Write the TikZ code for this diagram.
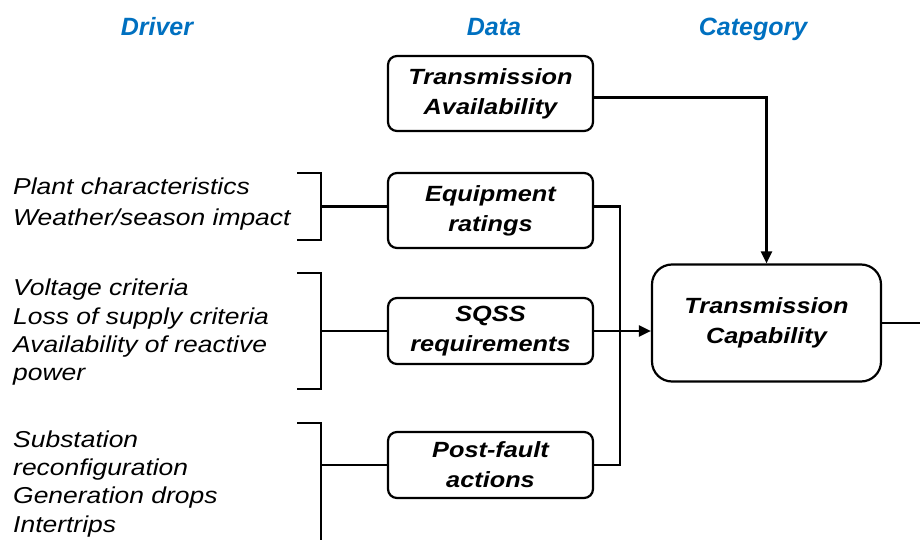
\documentclass[tikz,border=0pt]{standalone}
\usepackage{fontspec}
\setmainfont{Liberation Sans}
\newfontfamily\stretchfont{Liberation Sans}[FakeStretch=1.15]
\usetikzlibrary{arrows.meta}
\definecolor{hdrblue}{RGB}{0,112,192}
\begin{document}
\begin{tikzpicture}[x=1pt,y=-1pt,
  hdr/.style={font=\fontsize{25}{30}\selectfont\bfseries\itshape, text=hdrblue, anchor=base, inner sep=0pt},
  drv/.style={font=\stretchfont\fontsize{23}{26}\selectfont\itshape, anchor=base west, inner sep=0pt},
  box/.style={draw, line width=2.2pt, rounded corners=9pt, minimum width=205pt, minimum height=75pt, align=center, font=\stretchfont\fontsize{22}{30}\selectfont\bfseries\itshape, inner sep=0pt},
  ln/.style={line width=2.2pt},
  arr/.style={ln, -{Triangle[length=12pt,width=11pt]}}]
\useasboundingbox (0,0) rectangle (920,540);
% headers
\node[hdr] (hdriver) at (157,36) {Driver};
\node[hdr] (hdata) at (494,36) {Data};
\node[hdr] (hcat) at (753,36) {Category};
% data boxes
\node[box] (ta) at (490.5,93.5) {Transmission\\Availability};
\node[box] (eq) at (490.5,210.5) {Equipment\\ratings};
\node[box, minimum height=66pt] (sq) at (490.5,331) {SQSS\\requirements};
\node[box, minimum height=66pt] (pf) at (490.5,465) {Post-fault\\actions};
\node[box, minimum width=229pt, minimum height=117pt, rounded corners=20pt] (tc) at (766.5,323) {Transmission\\Capability};
% drivers
\node[drv] (d1) at (13,194) {Plant characteristics};
\node[drv] (d2) at (13,225) {Weather/season impact};
\node[drv] (d3) at (13,295) {Voltage criteria};
\node[drv] (d4) at (13,324) {Loss of supply criteria};
\node[drv] (d5) at (13,352) {Availability of reactive};
\node[drv] (d6) at (13,380) {power};
\node[drv] (d7) at (13,447) {Substation};
\node[drv] (d8) at (13,475) {reconfiguration};
\node[drv] (d9) at (13,503) {Generation drops};
\node[drv] (d10) at (13,532) {Intertrips};
% brackets
\draw[ln] (297,173) -- (321,173) -- (321,240) -- (297,240);
\draw[ln] (297,273) -- (321,273) -- (321,389) -- (297,389);
\draw[ln] (297,423) -- (321,423) -- (321,548);
\coordinate (b1) at (321,206.5);
\coordinate (b2) at (321,331);
\coordinate (b3) at (321,465);
\draw[ln] (b1) -- (b1 -| eq.west);
\draw[ln] (b2) -- (sq.west);
\draw[ln] (b3) -- (pf.west);
% connectors
\draw[ln] ([yshift=4pt]eq.east) -- ++(26,0) |- (pf.east);
\draw[arr] (sq.east) -- (sq.east -| tc.west);
\draw[arr] ([yshift=-4pt]ta.east) -| (tc.north);
\coordinate (out) at (925,323);
\draw[ln] (tc.east) -- (out);
\end{tikzpicture}
\end{document}
